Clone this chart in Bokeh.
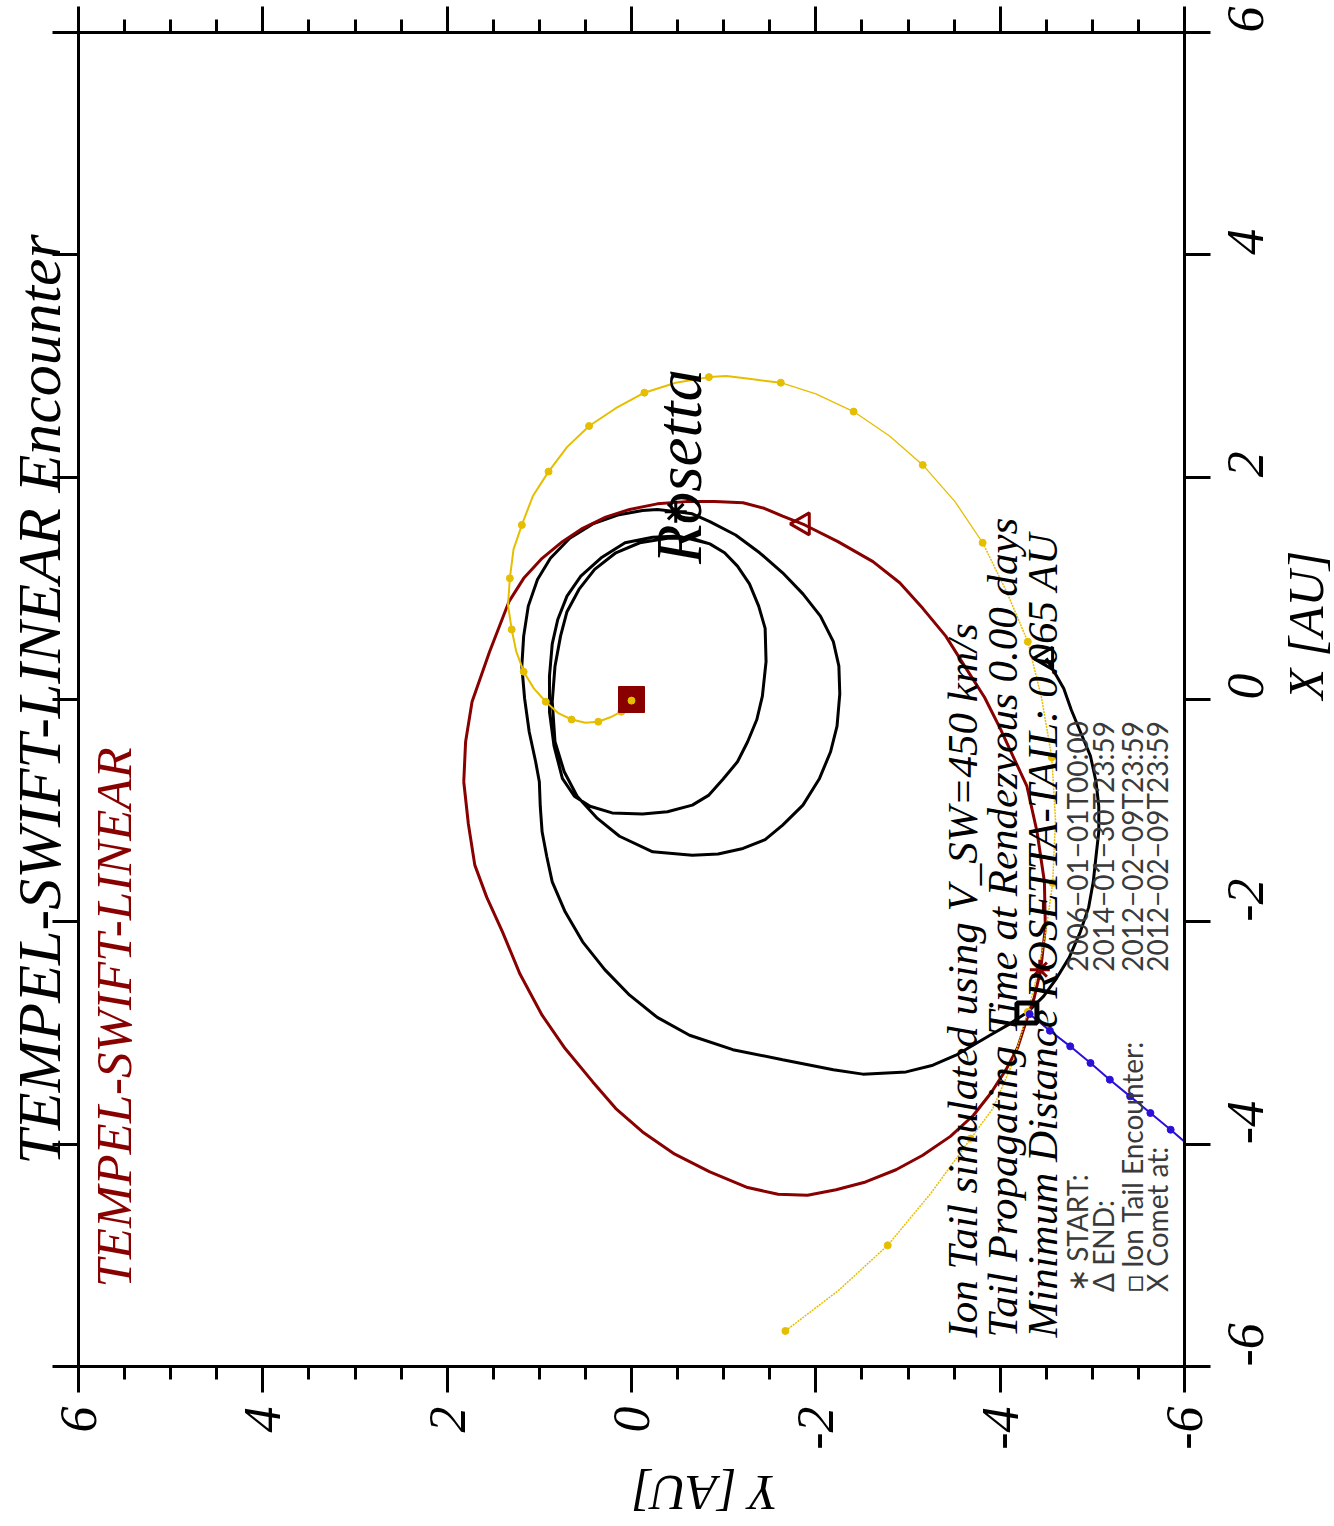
import math
from bokeh.plotting import figure
from bokeh.models import Range1d, LinearAxis, FixedTicker, Label, Title
from bokeh.embed import file_html
from bokeh.resources import INLINE

SERIF = "Liberation Serif"
SANS = "Lato"
DARKRED = "#880000"
GOLD = "#e6be00"
BLUE = "#2a10d8"

# ---------------- data (Y [AU] on horizontal axis, X [AU] on vertical axis) ----------------
# Parker spiral of the solar wind (yellow), three stretches of one field line
spiral_inner_y = [0.00, 0.11, 0.23, 0.36, 0.50, 0.65, 0.80, 0.93, 1.06, 1.17, 1.25, 1.30, 1.34, 1.32,
                  1.28, 1.19, 1.07, 0.90, 0.70, 0.46, 0.17, -0.14, -0.48, -0.84, -1.03, -1.32, -1.62]
spiral_inner_x = [-0.01, -0.11, -0.16, -0.20, -0.21, -0.18, -0.12, -0.02, 0.10, 0.25, 0.43, 0.63, 0.85, 1.09,
                  1.35, 1.57, 1.83, 2.05, 2.27, 2.46, 2.62, 2.76, 2.85, 2.90, 2.91, 2.88, 2.85]
spiral_mid_y = [-1.62, -2.00, -2.41, -2.80, -3.16, -3.51, -3.81]
spiral_mid_x = [2.85, 2.75, 2.59, 2.37, 2.11, 1.78, 1.41]
spiral_outer_y = [-3.81, -4.07, -4.30, -4.45, -4.56, -4.60, -4.57, -4.50, -4.42, -4.30, -4.14, -3.92,
                  -3.68, -3.25, -2.78, -2.24, -1.67]
spiral_outer_x = [1.41, 0.97, 0.52, 0.01, -0.52, -1.08, -1.65, -2.06, -2.42, -2.81, -3.26, -3.68,
                  -3.95, -4.44, -4.91, -5.32, -5.68]
spiral_dot_y = [0.00, 0.11, 0.36, 0.65, 0.93, 1.17, 1.30, 1.32, 1.19, 0.90, 0.46, -0.14, -0.84, -1.62,
                -2.41, -3.16, -3.81, -4.30, -4.56, -4.57, -4.30, -3.68, -2.78, -1.67]
spiral_dot_x = [-0.01, -0.11, -0.20, -0.18, -0.02, 0.25, 0.63, 1.09, 1.57, 2.05, 2.46, 2.76, 2.90, 2.85,
                2.59, 2.11, 1.41, 0.52, -0.52, -1.65, -2.81, -3.95, -4.91, -5.68]

# Comet orbit TEMPEL-SWIFT-LINEAR (dark red)
comet_y = [1.82, 1.80, 1.73, 1.54, 1.33, 1.17, 0.97, 0.75, 0.53, 0.28, 0.02, -0.28, -0.59, -0.90,
           -1.21, -1.44, -1.64, -1.88, -2.24, -2.62, -2.91, -3.16, -3.41, -3.63, -3.83, -4.00, -4.15,
           -4.29, -4.40, -4.48, -4.49, -4.44, -4.37, -4.28, -4.19, -4.07, -3.90, -3.71, -3.46, -3.16,
           -2.87, -2.54, -2.22, -1.91, -1.59, -1.26, -0.85, -0.47, -0.12, 0.17, 0.42, 0.72, 0.97,
           1.21, 1.40, 1.57, 1.70, 1.77, 1.82]
comet_x = [-0.74, -0.38, -0.02, 0.43, 0.88, 1.09, 1.27, 1.42, 1.54, 1.64, 1.71, 1.76, 1.78, 1.78,
           1.77, 1.72, 1.65, 1.57, 1.42, 1.24, 1.05, 0.82, 0.57, 0.28, 0.02, -0.26, -0.53,
           -0.78, -1.19, -1.64, -2.05, -2.43, -2.68, -2.90, -3.13, -3.32, -3.54, -3.74, -3.93, -4.10,
           -4.23, -4.34, -4.41, -4.46, -4.45, -4.39, -4.25, -4.09, -3.89, -3.68, -3.44, -3.14, -2.84,
           -2.47, -2.09, -1.78, -1.49, -1.12, -0.74]

# Rosetta trajectory (black): two inner loops, then the start point, then the large loop to the end
rosetta_y = [-0.85, -0.51, -0.23, 0.07, 0.32, 0.55, 0.70, 0.80, 0.86, 0.89, 0.89, 0.84, 0.75, 0.62,
             0.45, 0.21, -0.12, -0.39, -0.66, -0.84, -0.99, -1.15, -1.26, -1.36, -1.42, -1.46, -1.45,
             -1.38, -1.28, -1.15, -1.01, -0.85, -0.66,
             -0.39, -0.09, 0.17, 0.40, 0.57, 0.70, 0.77, 0.83, 0.86, 0.83, 0.73, 0.59, 0.37, 0.13,
             -0.23, -0.66, -0.94, -1.21, -1.45, -1.64, -1.86, -2.04, -2.16, -2.23, -2.26, -2.25, -2.19,
             -2.05, -1.86, -1.64, -1.39, -1.13, -0.85, -0.66, -0.48,
             -0.28, -0.12, 0.15, 0.42, 0.67, 0.88, 1.02, 1.12, 1.17, 1.19, 1.16, 1.11, 1.04, 1.00,
             0.99, 0.97, 0.92, 0.86, 0.72, 0.53, 0.29, 0.02, -0.28, -0.63, -1.10, -1.64, -2.19, -2.51,
             -2.98, -3.27, -3.52, -3.89, -4.10, -4.30, -4.47, -4.61, -4.75, -4.87, -4.96, -5.01, -5.04,
             -5.07, -5.07, -5.04, -4.98, -4.87, -4.77, -4.69, -4.60, -4.50]
rosetta_x = [1.40, 1.47, 1.46, 1.41, 1.28, 1.11, 0.93, 0.72, 0.50, 0.21, -0.11, -0.42, -0.71, -0.87,
             -0.96, -1.02, -1.03, -1.01, -0.95, -0.86, -0.72, -0.56, -0.38, -0.18, 0.03, 0.34, 0.64,
             0.84, 1.04, 1.20, 1.32, 1.40, 1.45,
             1.45, 1.41, 1.32, 1.17, 0.99, 0.79, 0.57, 0.30, -0.02, -0.38, -0.65, -0.87, -1.07, -1.23,
             -1.37, -1.40, -1.39, -1.34, -1.26, -1.13, -0.95, -0.71, -0.47, -0.24, 0.05, 0.30, 0.52,
             0.75, 0.95, 1.14, 1.32, 1.48, 1.60, 1.67, 1.69,
             1.71, 1.70, 1.66, 1.58, 1.45, 1.27, 1.08, 0.84, 0.57, 0.30, 0.01, -0.29, -0.56, -0.74,
             -0.96, -1.19, -1.41, -1.64, -1.91, -2.18, -2.43, -2.66, -2.86, -3.02, -3.15, -3.24, -3.33, -3.37,
             -3.35, -3.29, -3.20, -3.02, -2.92, -2.81, -2.67, -2.51, -2.32, -2.09, -1.87, -1.64, -1.41,
             -1.19, -0.96, -0.74, -0.51, -0.29, -0.09, 0.10, 0.23, 0.37]

# Simulated ion tail (blue)
tail_y = [-4.32, -4.54, -4.76, -4.98, -5.19, -5.41, -5.63, -5.85, -6.06, -6.28]
tail_x = [-2.83, -2.98, -3.12, -3.27, -3.42, -3.57, -3.72, -3.87, -4.02, -4.17]

# Special positions
sun_y, sun_x = [0.0], [0.0]
rosetta_start_y, rosetta_start_x = [-0.48], [1.69]
rosetta_end_y, rosetta_end_x = [-4.50], [0.37]
encounter_y, encounter_x = [-4.29], [-2.82]
comet_end_y, comet_end_x = [-1.86], [1.58]
comet_at_y, comet_at_x = [-4.43], [-2.43]

major_ticks = [-6, -4, -2, 0, 2, 4, 6]
minor_ticks = [-5.5, -5, -4.5, -3.5, -3, -2.5, -1.5, -1, -0.5,
               0.5, 1, 1.5, 2.5, 3, 3.5, 4.5, 5, 5.5]
tick_texts = {-6: "-6", -4: "-4", -2: "-2", 0: "0", 2: "2", 4: "4", 6: "6"}

legend_labels = ["\u2217  START:", "\u0394  END:", "\u25a1  Ion Tail Encounter:", "X  Comet at:"]
legend_dates = ["2006\u221201\u221201T00:00", "2014\u221201\u221230T23:59",
                "2012\u221202\u221209T23:59", "2012\u221202\u221209T23:59"]
info_lines = ["Ion Tail simulated using V_SW=450 km/s",
              "Tail Propagating  Time at Rendezvous  0.00 days",
              "Minimum Distance ROSETTA-TAIL:  0.065  AU"]

# ---------------- figure ----------------
p = figure(frame_width=1106, frame_height=1334,
           x_range=Range1d(6, -6), y_range=Range1d(-6, 6),
           x_axis_location="below", y_axis_location="right",
           min_border_left=77, min_border_right=120, min_border_top=32, min_border_bottom=150,
           output_backend="svg", toolbar_location=None)
p.grid.visible = False
p.outline_line_color = None
p.background_fill_color = "white"
p.border_fill_color = "white"


def base_axis(ax):
    ax.axis_line_width = 3
    ax.axis_line_color = "black"
    ax.major_tick_line_width = 3
    ax.minor_tick_line_width = 3
    ax.major_label_text_font = SERIF
    ax.major_label_text_font_style = "italic"
    ax.major_label_text_color = "black"
    ax.axis_label_text_font = SERIF
    ax.axis_label_text_font_style = "italic"
    ax.axis_label_text_font_size = "50px"
    ax.axis_label_text_color = "black"


# labelled axes (bottom = Y, right = X)
bottom = p.xaxis[0]
right = p.yaxis[0]
for ax in (bottom, right):
    base_axis(ax)
    ax.major_tick_out = 26
    ax.major_tick_in = 0
    ax.major_label_text_font_size = "52px"
    ax.major_label_orientation = math.pi / 2
    ax.major_label_overrides = tick_texts
bottom.ticker = FixedTicker(ticks=major_ticks, minor_ticks=minor_ticks)
bottom.minor_tick_out = 13
bottom.minor_tick_in = 0
right.ticker = FixedTicker(ticks=major_ticks, minor_ticks=[])
right.minor_tick_out = 0
right.minor_tick_in = 0
bottom.major_label_standoff = 14
right.major_label_standoff = 35
bottom.axis_label = "Y [AU]"
right.axis_label = "X [AU]"
bottom.axis_label_standoff = 40
right.axis_label_standoff = 22
bottom.axis_label_orientation = math.pi
right.axis_label_orientation = math.pi / 2


# unlabelled mirror axes (top and left): ticks only, drawn outward
def tick_only_axis(positions, length):
    ax = LinearAxis()
    base_axis(ax)
    ax.ticker = FixedTicker(ticks=[], minor_ticks=positions)
    ax.major_tick_out = 0
    ax.major_tick_in = 0
    ax.minor_tick_out = 0
    ax.minor_tick_in = -length
    ax.major_label_standoff = 0
    ax.axis_label_standoff = 0
    return ax


p.add_layout(tick_only_axis(major_ticks, 26), "above")
p.add_layout(tick_only_axis(minor_ticks, 13), "above")
p.add_layout(tick_only_axis(major_ticks, 26), "left")

p.add_layout(Title(text="TEMPEL-SWIFT-LINEAR Encounter", align="center", vertical_align="top",
                   standoff=8, text_font=SERIF, text_font_style="italic", text_font_size="62px",
                   text_color="black"), "left")

# ---------------- curves ----------------
p.line(rosetta_y, rosetta_x, line_color="black", line_width=3)
p.line(comet_y, comet_x, line_color=DARKRED, line_width=3)
p.line(spiral_inner_y, spiral_inner_x, line_color=GOLD, line_width=2)
p.line(spiral_mid_y, spiral_mid_x, line_color=GOLD, line_width=1.3)
p.line(spiral_outer_y, spiral_outer_x, line_color=GOLD, line_width=1.5, line_dash="2 1")
p.scatter(spiral_dot_y, spiral_dot_x, marker="circle", size=7, fill_color=GOLD, line_color=GOLD)
p.line(tail_y, tail_x, line_color=BLUE, line_width=2)
p.scatter(tail_y, tail_x, marker="circle", size=7, fill_color=BLUE, line_color=BLUE)

# ---------------- special markers ----------------
p.scatter(sun_x, sun_y, marker="square", size=26, fill_color=DARKRED, line_color=DARKRED)
p.scatter(spiral_dot_y[:1], spiral_dot_x[:1], marker="circle", size=7, fill_color=GOLD, line_color=GOLD)
p.scatter(rosetta_start_y, rosetta_start_x, marker="asterisk", size=22, line_color="black", line_width=3)
p.scatter(rosetta_end_y, rosetta_end_x, marker="triangle", angle=math.pi / 2, size=22,
          fill_color=None, line_color="black", line_width=3)
p.scatter(comet_end_y, comet_end_x, marker="triangle", angle=math.pi / 2, size=22,
          fill_color=None, line_color=DARKRED, line_width=3)
p.scatter(comet_at_y, comet_at_x, marker="asterisk", size=20, line_color=DARKRED, line_width=3)
p.scatter(encounter_y, encounter_x, marker="square", size=20, fill_color=None,
          line_color="black", line_width=5)

# ---------------- texts inside the frame ----------------
p.add_layout(Label(x=5.61, y=-5.29, text="TEMPEL-SWIFT-LINEAR", angle=math.pi / 2,
                   text_align="left", text_baseline="alphabetic", text_font=SERIF,
                   text_font_style="italic", text_font_size="51px", text_color=DARKRED))
p.add_layout(Label(x=-0.52, y=1.22, text="Rosetta", angle=math.pi / 2,
                   text_align="left", text_baseline="alphabetic", text_font=SERIF,
                   text_font_style="italic", text_font_size="65px", text_color="black"))

info_pos_y = [-3.59, -4.03, -4.46]
for txt, yy in zip(info_lines, info_pos_y):
    p.add_layout(Label(x=yy, y=-5.74, text=txt, angle=math.pi / 2,
                       text_align="left", text_baseline="alphabetic", text_font=SERIF,
                       text_font_style="italic", text_font_size="43px", text_color="black"))

legend_pos_y = [-4.83, -5.12, -5.43, -5.70]
for lab, dat, yy in zip(legend_labels, legend_dates, legend_pos_y):
    p.add_layout(Label(x=yy, y=-5.33, text=lab, angle=math.pi / 2,
                       text_align="left", text_baseline="alphabetic", text_font=SANS,
                       text_font_size="28px", text_color="#3a3a3a"))
    p.add_layout(Label(x=yy, y=-2.45, text=dat, angle=math.pi / 2,
                       text_align="left", text_baseline="alphabetic", text_font=SANS,
                       text_font_size="28px", text_color="#3a3a3a"))

open("out.html", "w").write(file_html(p, INLINE))
